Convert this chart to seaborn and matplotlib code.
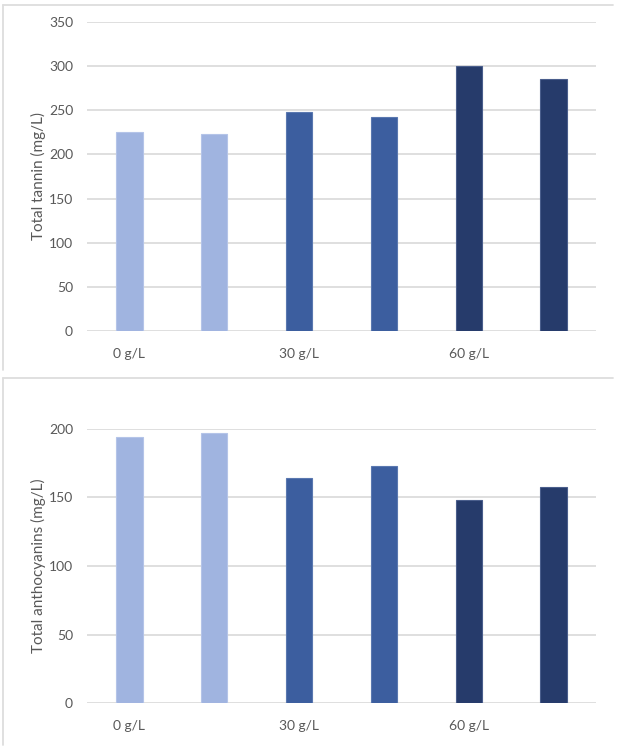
import matplotlib.pyplot as plt
import pandas as pd
import seaborn as sns
from matplotlib.lines import Line2D

# chart values
samples = ["0a", "0b", "30a", "30b", "60a", "60b"]
doses = ["0 g/L", "0 g/L", "30 g/L", "30 g/L", "60 g/L", "60 g/L"]
tannin = [225, 223, 248, 242, 300, 285]
anthocyanins = [194, 197, 164, 173, 148, 158]
tick_labels = ["0 g/L", "30 g/L", "60 g/L"]
tick_positions = [0, 2, 4]
dose_colors = {"0 g/L": "#A0B4E0", "30 g/L": "#3C5E9F", "60 g/L": "#263B6B"}
edge_colors = ["#B4C4E8", "#B4C4E8", "#5A78B0", "#5A78B0", "#4A5E8C", "#4A5E8C"]

df = pd.DataFrame(
    {"sample": samples, "dose": doses, "tannin": tannin, "anthocyanins": anthocyanins}
)

sns.set_style("white")
plt.rcParams["font.family"] = ["Lato", "DejaVu Sans"]
text_color = "#595959"
grid_color = "#D9D9D9"

fig = plt.figure(figsize=(6.4, 7.54), dpi=100)

W, H = 640, 754


def px_axes(left, right, top, bottom):
    return fig.add_axes([left / W, 1 - bottom / H, (right - left) / W, (bottom - top) / H])


ax1 = px_axes(87, 596, 22, 331)
ax2 = px_axes(87, 596, 429, 703)


def draw_panel(ax, col, ymax, step, ylabel):
    sns.barplot(
        data=df,
        x="sample",
        y=col,
        hue="dose",
        palette=dose_colors,
        saturation=1,
        dodge=False,
        width=0.31,
        legend=False,
        order=samples,
        ax=ax,
        zorder=3,
    )
    for patch, ec in zip(ax.patches, edge_colors):
        patch.set_edgecolor(ec)
        patch.set_linewidth(0.8)
    ax.set_ylim(0, ymax)
    ax.set_xlim(-0.5, len(samples) - 0.5)
    ax.set_yticks(range(0, ymax + 1, step))
    ax.yaxis.grid(True, color=grid_color, linewidth=1.2, zorder=0)
    ax.set_axisbelow(True)
    ax.set_xticks(tick_positions)
    ax.set_xticklabels(tick_labels)
    ax.tick_params(axis="both", length=0, labelsize=10, colors=text_color)
    ax.tick_params(axis="x", pad=12)
    ax.tick_params(axis="y", pad=10)
    ax.set_xlabel("")
    ax.set_ylabel(ylabel, fontsize=11, color=text_color, labelpad=2)
    for s in ax.spines.values():
        s.set_visible(False)


draw_panel(ax1, "tannin", 350, 50, "Total tannin (mg/L)")
draw_panel(ax2, "anthocyanins", 200, 50, "Total anthocyanins (mg/L)")

# chart frames
for top, bottom in [(5, 370), (378, 745)]:
    fig.add_artist(Line2D([3 / W, 613 / W], [1 - top / H, 1 - top / H],
                          color="#DDDDDD", linewidth=1.3))
    fig.add_artist(Line2D([3 / W, 3 / W], [1 - top / H, 1 - bottom / H],
                          color="#DDDDDD", linewidth=1.3))

fig.savefig("out.png", dpi=100)
